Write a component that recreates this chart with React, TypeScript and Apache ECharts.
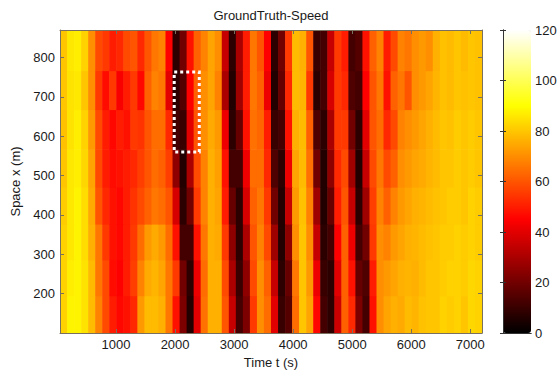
import React, { useEffect, useRef } from 'react';
import * as echarts from 'echarts';

const TITLE = 'GroundTruth-Speed';
const X_NAME = 'Time t (s)';
const Y_NAME = 'Space x (m)';

// time axis (s): 60 measurement intervals between these limits
const TIME_MIN = 50;
const TIME_MAX = 7200;
const TIME_COLUMNS = 60;
const TIME_STEP = (TIME_MAX - TIME_MIN) / TIME_COLUMNS;
const TIME_TICK = 1000;

// space axis (m): cell edges of the 8 detector sections (bottom to top)
const SPACE_EDGES = [100, 195, 286, 377, 471, 567, 668, 767, 870];
const SPACE_TICK = 100;

// speed (km/h) per section, one value per time interval
const speedRow148 = [82,88,88,85,78,68,58,50,46,48, 52,72,78,78,76,66,48,22,6,40, 65,76,76,60,35,12,22,55,70,64, 40,10,15,64,80,74,46,12,8,36, 62,52,22,12,48,70,74,76,75,78, 77,79,80,80,82,81,82,80,83,82];
const speedRow244 = [82,87,88,85,78,66,58,47,45,50, 56,68,75,77,74,66,55,20,8,42, 64,76,76,58,30,10,25,58,70,62, 35,8,18,66,80,72,42,10,8,40, 62,48,18,14,50,70,72,74,76,77, 76,78,80,80,81,82,82,81,83,82];
const speedRow341 = [82,86,88,84,76,66,55,48,46,50, 55,64,72,75,72,64,48,12,12,48, 66,76,75,55,25,8,30,60,68,58, 28,6,25,70,80,70,35,8,12,45, 62,42,12,20,55,70,68,72,74,76, 77,78,79,80,81,81,82,81,82,81];
const speedRow437 = [81,86,88,84,75,60,52,48,46,50, 54,58,62,66,64,60,38,8,20,55, 68,76,74,50,18,8,38,62,66,55, 20,6,35,72,79,68,28,6,18,50, 60,35,8,28,56,68,62,68,72,74, 76,77,78,79,80,81,81,80,82,81];
const speedRow533 = [80,86,87,83,74,58,50,47,48,50, 52,56,60,64,62,56,25,6,30,58, 68,76,73,48,12,12,42,64,64,52, 14,8,42,74,78,65,20,6,25,52, 58,28,6,35,58,66,58,62,70,72, 74,75,77,78,80,80,81,80,81,80];
const speedRow629 = [79,85,87,82,72,58,50,46,50,48, 55,54,60,64,64,52,12,10,40,60, 70,75,72,42,8,18,48,65,63,50, 10,12,48,76,78,62,14,8,30,55, 55,20,8,40,60,64,52,58,68,70, 72,74,76,78,80,79,81,80,81,80];
const speedRow726 = [80,85,86,80,70,55,47,55,44,50, 55,46,62,68,66,40,8,15,45,62, 70,74,68,30,6,28,50,66,62,42, 6,18,52,78,77,55,8,12,38,55, 52,14,12,45,60,66,48,62,66,60, 70,72,74,77,79,78,80,79,80,79];
const speedRow822 = [80,86,87,82,70,58,55,50,52,58, 60,52,60,66,68,45,8,20,48,62, 68,74,70,35,8,30,50,66,60,45, 8,20,55,78,76,60,10,12,35,55, 50,12,15,48,62,68,50,58,68,66, 70,72,70,76,79,78,80,78,80,79];

const SPEED_ROWS = [speedRow148, speedRow244, speedRow341, speedRow437, speedRow533, speedRow629, speedRow726, speedRow822];

// highlighted region: [t start, t end, x start, x end]
const HIGHLIGHT = [1985, 2410, 560, 763];

// colour scale
const SPEED_MIN = 0;
const SPEED_MAX = 120;
const SPEED_TICK = 20;
const HOT = ['#000000', '#550000', '#aa0000', '#ff0000', '#ff5500', '#ffaa00', '#ffff00', '#ffff80', '#ffffff'];

const FONT = '"Liberation Sans", Arial, sans-serif';
const TEXT = '#1a1a1a';
const AXIS = '#7a7060';

export default function App() {
  const ref = useRef<HTMLDivElement>(null);

  useEffect(() => {
    if (!ref.current) return;
    const chart = echarts.init(ref.current, null, { renderer: 'svg' });

    const heatData: number[][] = [];
    SPEED_ROWS.forEach((row, r) => {
      row.forEach((v, c) => {
        heatData.push([
          TIME_MIN + c * TIME_STEP,
          TIME_MIN + (c + 1) * TIME_STEP,
          SPACE_EDGES[r],
          SPACE_EDGES[r + 1],
          v,
        ]);
      });
    });

    const boxAxis = (extra: any) => ({
      type: 'value',
      axisLine: { show: true, lineStyle: { color: AXIS, width: 1 } },
      axisTick: { show: true, inside: true, length: 4, lineStyle: { color: AXIS } },
      splitLine: { show: false },
      z: 10,
      ...extra,
    });

    const plain = (v: number) => String(v);

    const option: any = {
      animation: false,
      backgroundColor: '#ffffff',
      textStyle: { fontFamily: FONT },
      graphic: [
        {
          type: 'text',
          x: 271,
          y: 15,
          z: 20,
          style: {
            text: TITLE,
            fill: TEXT,
            font: `13px ${FONT}`,
            align: 'center',
            verticalAlign: 'middle',
            textAlign: 'center',
            textVerticalAlign: 'middle',
          },
        },
      ],
      grid: [
        { left: 60, top: 30, width: 422, height: 303 },
        { left: 503, top: 30, width: 28, height: 303 },
      ],
      xAxis: [
        boxAxis({
          gridIndex: 0,
          position: 'bottom',
          min: TIME_MIN,
          max: TIME_MAX,
          minInterval: TIME_TICK,
          maxInterval: TIME_TICK,
          name: X_NAME,
          nameLocation: 'middle',
          nameGap: 23,
          nameTextStyle: { fontSize: 13, color: TEXT, fontFamily: FONT },
          axisLabel: { showMinLabel: false, showMaxLabel: false, fontSize: 13, color: TEXT, margin: 5, fontFamily: FONT, formatter: plain },
        }),
        boxAxis({
          gridIndex: 0,
          position: 'top',
          min: TIME_MIN,
          max: TIME_MAX,
          minInterval: TIME_TICK,
          maxInterval: TIME_TICK,
          axisLabel: { show: false },
        }),
        boxAxis({ gridIndex: 1, position: 'bottom', min: 0, max: 1, axisTick: { show: false }, axisLabel: { show: false }, axisLine: { show: true, lineStyle: { color: '#333' } } }),
        boxAxis({ gridIndex: 1, position: 'top', min: 0, max: 1, axisTick: { show: false }, axisLabel: { show: false }, axisLine: { show: true, lineStyle: { color: '#333' } } }),
      ],
      yAxis: [
        boxAxis({
          gridIndex: 0,
          position: 'left',
          min: SPACE_EDGES[0],
          max: SPACE_EDGES[SPACE_EDGES.length - 1],
          minInterval: SPACE_TICK,
          maxInterval: SPACE_TICK,
          name: Y_NAME,
          nameLocation: 'middle',
          nameGap: 35,
          nameRotate: 90,
          nameTextStyle: { fontSize: 13, color: TEXT, fontFamily: FONT },
          axisLabel: { showMinLabel: false, showMaxLabel: false, fontSize: 13, color: TEXT, margin: 5, fontFamily: FONT, formatter: plain },
        }),
        boxAxis({
          gridIndex: 0,
          position: 'right',
          min: SPACE_EDGES[0],
          max: SPACE_EDGES[SPACE_EDGES.length - 1],
          minInterval: SPACE_TICK,
          maxInterval: SPACE_TICK,
          axisLabel: { show: false },
        }),
        boxAxis({
          gridIndex: 1,
          position: 'right',
          min: SPEED_MIN,
          max: SPEED_MAX,
          interval: SPEED_TICK,
          axisLine: { show: true, lineStyle: { color: '#333' } },
          axisTick: { show: true, inside: true, length: 3, lineStyle: { color: '#333' } },
          axisLabel: { fontSize: 13, color: TEXT, margin: 4, fontFamily: FONT, formatter: plain },
        }),
        boxAxis({
          gridIndex: 1,
          position: 'left',
          min: SPEED_MIN,
          max: SPEED_MAX,
          interval: SPEED_TICK,
          axisLine: { show: true, lineStyle: { color: '#333' } },
          axisTick: { show: true, inside: true, length: 3, lineStyle: { color: '#333' } },
          axisLabel: { show: false },
        }),
      ],
      visualMap: {
        type: 'continuous',
        seriesIndex: 0,
        dimension: 4,
        min: SPEED_MIN,
        max: SPEED_MAX,
        inRange: { color: HOT },
        calculable: false,
        hoverLink: false,
        orient: 'vertical',
        left: 503,
        top: 30,
        itemWidth: 28,
        itemHeight: 303,
        padding: 0,
        text: null,
        z: 4,
      },
      series: [
        {
          type: 'custom',
          xAxisIndex: 0,
          yAxisIndex: 0,
          data: heatData,
          encode: { x: [0, 1], y: [2, 3] },
          clip: true,
          renderItem: (params: any, api: any) => {
            const p0 = api.coord([api.value(0), api.value(3)]);
            const p1 = api.coord([api.value(1), api.value(2)]);
            return {
              type: 'rect',
              shape: { x: p0[0], y: p0[1], width: p1[0] - p0[0] + 0.6, height: p1[1] - p0[1] + 0.6 },
              style: { fill: api.visual('color'), stroke: null },
            };
          },
        },
        {
          type: 'custom',
          xAxisIndex: 0,
          yAxisIndex: 0,
          data: [HIGHLIGHT],
          encode: { x: [0, 1], y: [2, 3] },
          z: 5,
          renderItem: (params: any, api: any) => {
            const p0 = api.coord([api.value(0), api.value(3)]);
            const p1 = api.coord([api.value(1), api.value(2)]);
            return {
              type: 'rect',
              shape: { x: p0[0], y: p0[1], width: p1[0] - p0[0], height: p1[1] - p0[1] },
              style: { fill: 'none', stroke: '#ffffff', lineWidth: 3, lineDash: [3, 3] },
            };
          },
        },
      ],
    };

    chart.setOption(option);
    return () => chart.dispose();
  }, []);

  return (
    <div
      ref={ref}
      style={{ position: 'fixed', left: 0, top: 0, width: 560, height: 374, background: '#fff' }}
    />
  );
}
